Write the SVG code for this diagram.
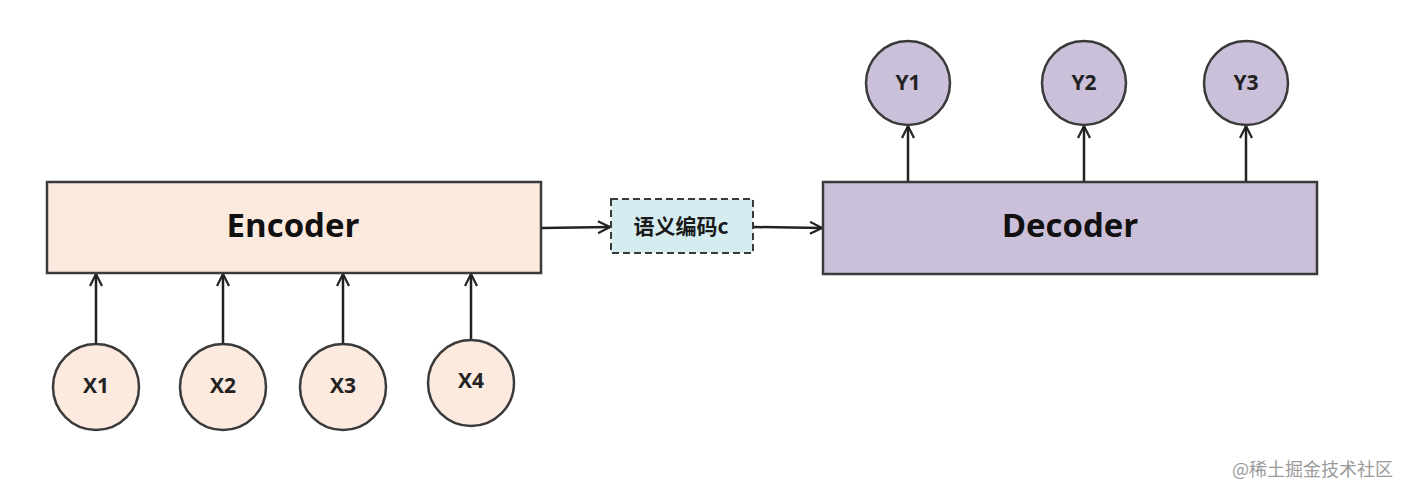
<svg xmlns="http://www.w3.org/2000/svg" width="1410" height="498" viewBox="0 0 1410 498">
<style>
.box{stroke:#3a3a3a;stroke-width:2.5}
.enc{fill:#fdeadf}
.dec{fill:#cbc0d9}
.mid{fill:#d5edf0;stroke:#3a3a3a;stroke-width:2;stroke-dasharray:7 4}
.big{font-family:"Open Sans","Liberation Sans",sans-serif;font-weight:bold;font-size:33px;fill:#111;text-anchor:middle;dominant-baseline:central}
.small{font-family:"Open Sans","Liberation Sans",sans-serif;font-weight:bold;font-size:21px;fill:#222;text-anchor:middle;dominant-baseline:central}
.cn{font-family:"Noto Sans CJK SC","Liberation Sans",sans-serif;font-weight:bold;font-size:21px;fill:#1a1a1a;text-anchor:middle;dominant-baseline:central}
.wm{font-family:"Noto Sans CJK SC","Liberation Sans",sans-serif;font-size:18px;fill:#9a9a9a}
.conn line{stroke:#222;stroke-width:2.5;marker-end:url(#arr)}
</style>
<defs>
<marker id="arr" viewBox="0 0 14 14" refX="13" refY="7" markerWidth="14" markerHeight="14" markerUnits="userSpaceOnUse" orient="auto">
<path d="M1,1 L13,7 L1,13" fill="none" stroke="#222" stroke-width="2.2"/>
</marker>
</defs>
<rect width="1410" height="498" fill="#fff"/>
<g class="conn">
<line x1="96" y1="344" x2="96" y2="274"/>
<line x1="223" y1="344" x2="223" y2="274"/>
<line x1="343" y1="344" x2="343" y2="274"/>
<line x1="471" y1="340" x2="471" y2="274"/>
<line x1="542" y1="228" x2="610" y2="227"/>
<line x1="754" y1="227" x2="822" y2="228"/>
<line x1="908" y1="182" x2="908" y2="126"/>
<line x1="1084" y1="182" x2="1084" y2="126"/>
<line x1="1246" y1="182" x2="1246" y2="126"/>
</g>
<g id="encoder"><rect class="box enc" x="47" y="182" width="494" height="91"/><text class="big" x="293" y="224">Encoder</text></g>
<g id="decoder"><rect class="box dec" x="823" y="182" width="494" height="92"/><text class="big" x="1070" y="224">Decoder</text></g>
<g id="code"><rect class="mid" x="611" y="199" width="142" height="54"/><text class="cn" x="681" y="225">语义编码c</text></g>
<g id="x1"><circle class="box enc" cx="96" cy="387" r="43"/><text class="small" x="96" y="385">X1</text></g>
<g id="x2"><circle class="box enc" cx="223" cy="387" r="43"/><text class="small" x="223" y="385">X2</text></g>
<g id="x3"><circle class="box enc" cx="343" cy="387" r="43"/><text class="small" x="343" y="385">X3</text></g>
<g id="x4"><circle class="box enc" cx="471" cy="383" r="43"/><text class="small" x="471" y="380">X4</text></g>
<g id="y1"><circle class="box dec" cx="908" cy="83" r="42"/><text class="small" x="908" y="82">Y1</text></g>
<g id="y2"><circle class="box dec" cx="1084" cy="83" r="42"/><text class="small" x="1084" y="82">Y2</text></g>
<g id="y3"><circle class="box dec" cx="1246" cy="83" r="42"/><text class="small" x="1246" y="82">Y3</text></g>
<text class="wm" x="1232" y="476">@稀土掘金技术社区</text>
</svg>
